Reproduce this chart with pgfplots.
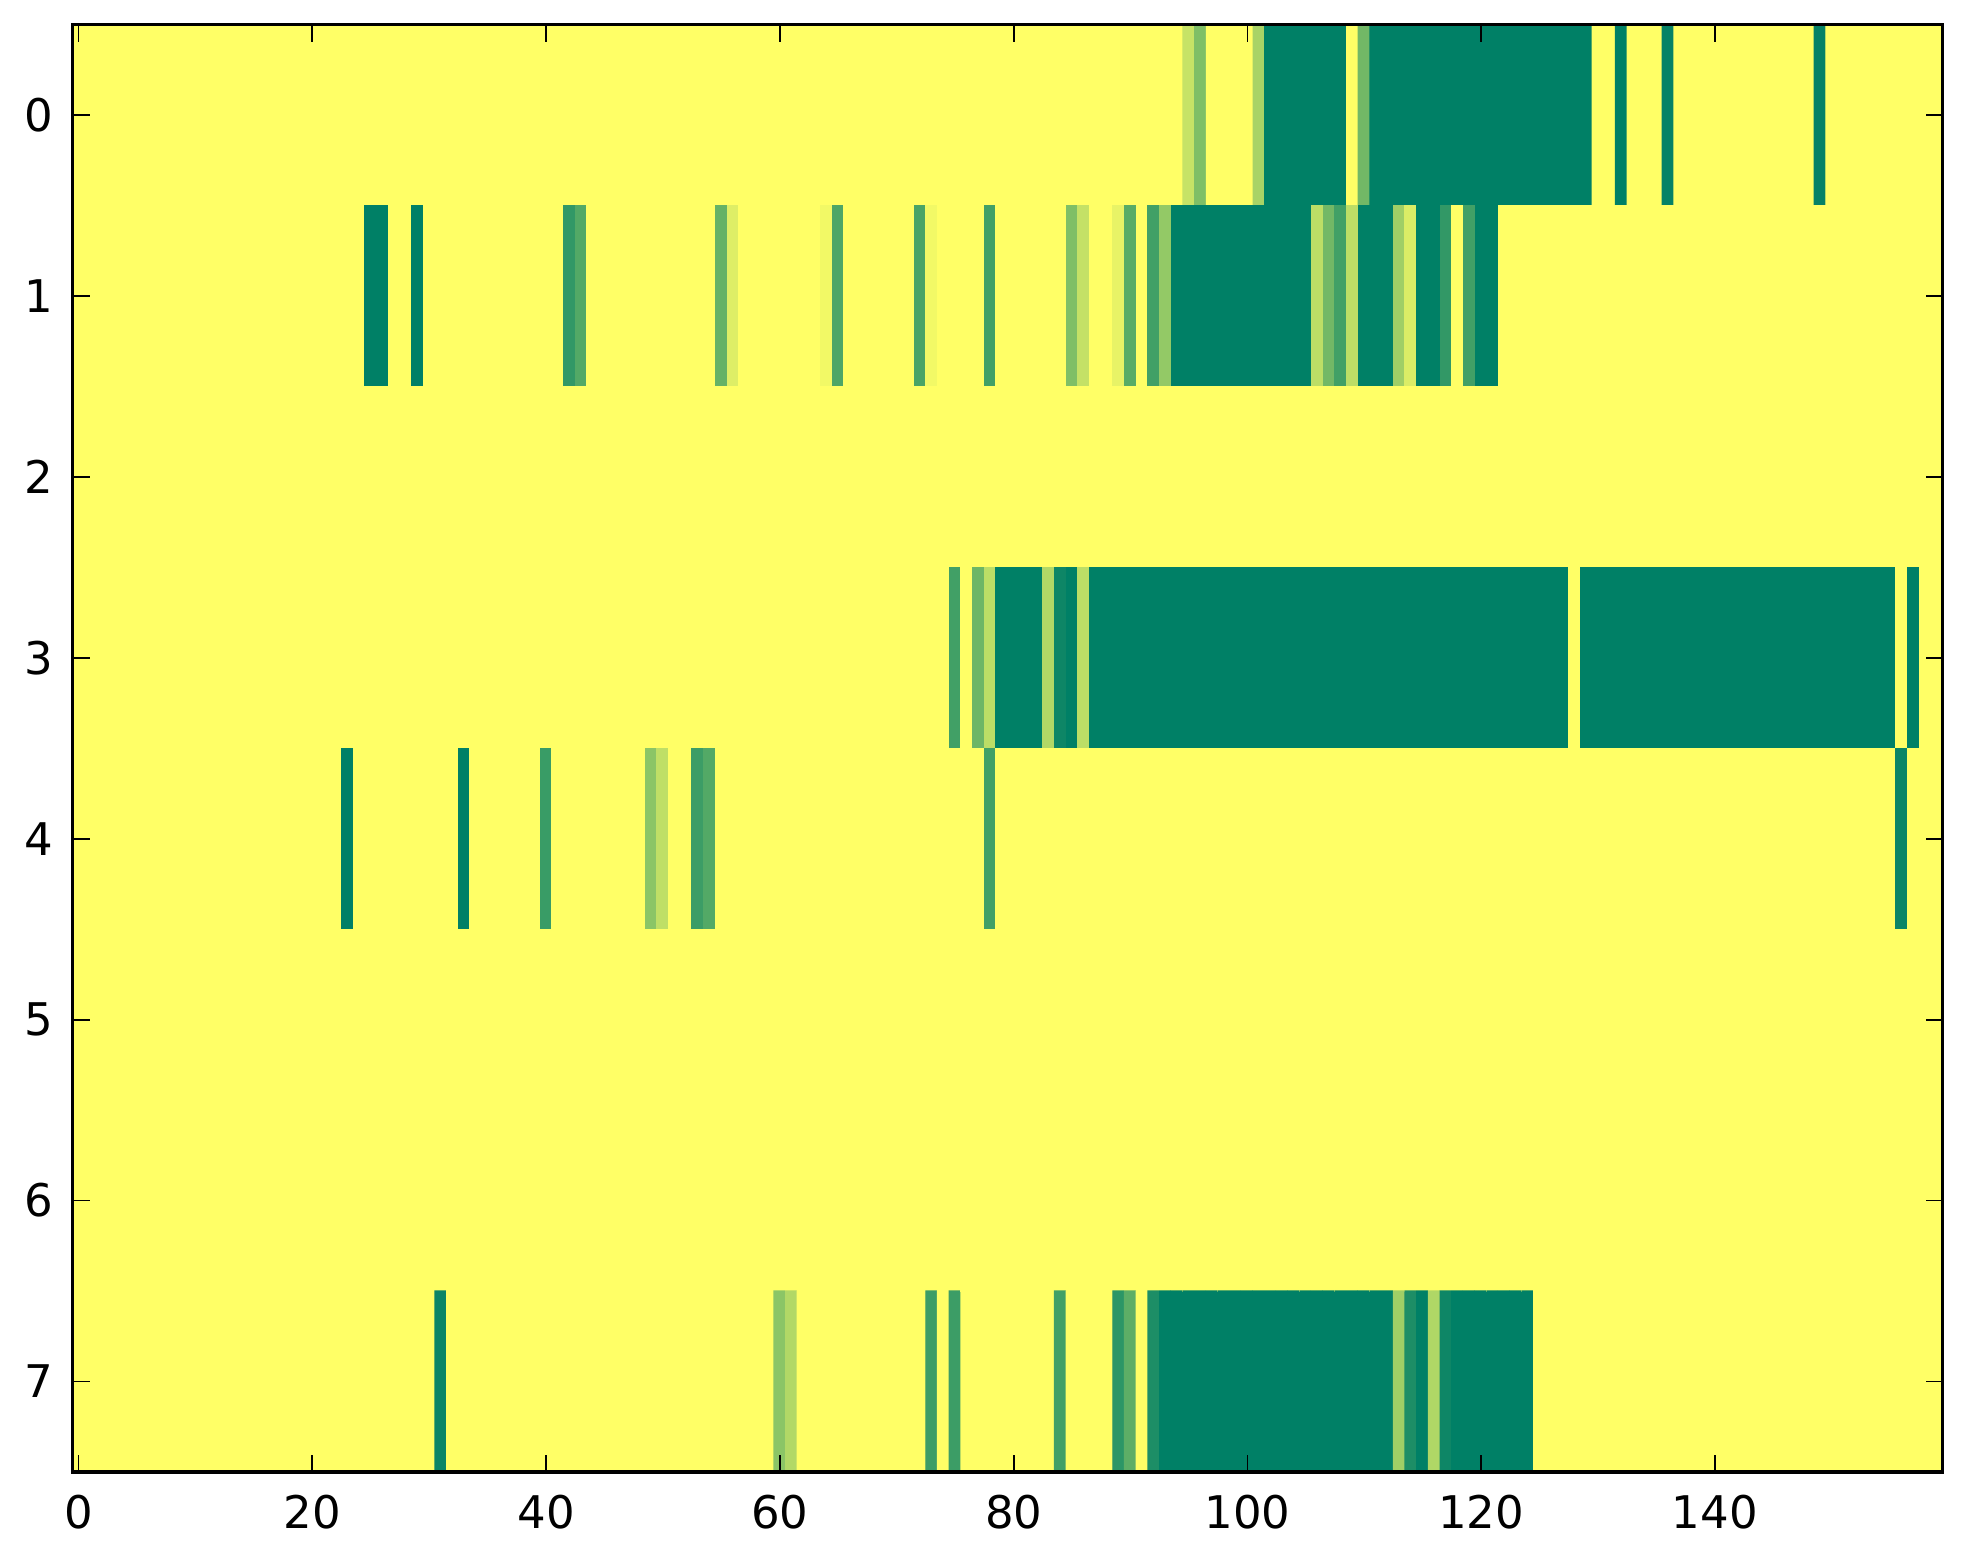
\documentclass[border=0pt]{standalone}
\usepackage{fontspec}
\setmainfont{DejaVu Sans}
\usepackage{pgfplots}
\pgfplotsset{compat=1.18}
\begin{document}
\begin{tikzpicture}
\begin{axis}[
  scale only axis, width=519.4pt, height=401.9pt,
  xmin=-0.5, xmax=159.5, ymin=-0.5, ymax=7.5,
  y dir=reverse,
  enlargelimits=false,
  xtick={0,20,...,140}, ytick={0,1,2,3,4,5,6,7},
  tick align=inside,
  major tick length=4.8pt,
  axis line style={line width=0.9pt},
  every tick/.style={black, line width=0.5pt},
  colormap={summerr}{rgb=(1,1,0.4) rgb=(0,0.5,0.4)},
  point meta min=0, point meta max=1,
  /pgf/number format/assume math mode=true,
  ticklabel style={font=\fontsize{12.5}{15}\selectfont},
  xticklabel style={yshift=-3pt},
  yticklabel style={xshift=-2pt},
  axis on top,
]
\addplot[matrix plot*, mesh/cols=160, point meta=explicit, shader=flat corner]
table[row sep=\\, meta index=0, x expr={mod(\coordindex,160)}, y expr={floor(\coordindex/160)}] {
% row 0
0\\0\\0\\0\\0\\0\\0\\0\\0\\0\\
0\\0\\0\\0\\0\\0\\0\\0\\0\\0\\
0\\0\\0\\0\\0\\0\\0\\0\\0\\0\\
0\\0\\0\\0\\0\\0\\0\\0\\0\\0\\
0\\0\\0\\0\\0\\0\\0\\0\\0\\0\\
0\\0\\0\\0\\0\\0\\0\\0\\0\\0\\
0\\0\\0\\0\\0\\0\\0\\0\\0\\0\\
0\\0\\0\\0\\0\\0\\0\\0\\0\\0\\
0\\0\\0\\0\\0\\0\\0\\0\\0\\0\\
0\\0\\0\\0\\0\\0.22\\0.5\\0\\0\\0\\
0\\0.34\\1\\1\\1\\1\\1\\1\\1\\0\\
0.55\\1\\1\\1\\1\\1\\1\\1\\1\\1\\
1\\1\\1\\1\\1\\1\\1\\1\\1\\1\\
0\\0\\1\\0\\0\\0\\0.97\\0\\0\\0\\
0\\0\\0\\0\\0\\0\\0\\0\\0\\0.97\\
0\\0\\0\\0\\0\\0\\0\\0\\0\\0\\
% row 1
0\\0\\0\\0\\0\\0\\0\\0\\0\\0\\
0\\0\\0\\0\\0\\0\\0\\0\\0\\0\\
0\\0\\0\\0\\0\\1\\1\\0\\0\\1\\
0\\0\\0\\0\\0\\0\\0\\0\\0\\0\\
0\\0\\0.8\\0.67\\0\\0\\0\\0\\0\\0\\
0\\0\\0\\0\\0\\0.6\\0.13\\0\\0\\0\\
0\\0\\0\\0\\0.05\\0.69\\0\\0\\0\\0\\
0\\0\\0.71\\0.05\\0\\0\\0\\0\\0.74\\0\\
0\\0\\0\\0\\0\\0.5\\0.23\\0\\0\\0.09\\
0.65\\0\\0.74\\0.42\\1\\1\\1\\1\\1\\1\\
1\\1\\1\\1\\1\\1\\0.26\\0.55\\0.74\\0.26\\
1\\1\\1\\0.37\\0.14\\1\\1\\0.8\\0\\0.74\\
1\\1\\0\\0\\0\\0\\0\\0\\0\\0\\
0\\0\\0\\0\\0\\0\\0\\0\\0\\0\\
0\\0\\0\\0\\0\\0\\0\\0\\0\\0\\
0\\0\\0\\0\\0\\0\\0\\0\\0\\0\\
% row 2
0\\0\\0\\0\\0\\0\\0\\0\\0\\0\\
0\\0\\0\\0\\0\\0\\0\\0\\0\\0\\
0\\0\\0\\0\\0\\0\\0\\0\\0\\0\\
0\\0\\0\\0\\0\\0\\0\\0\\0\\0\\
0\\0\\0\\0\\0\\0\\0\\0\\0\\0\\
0\\0\\0\\0\\0\\0\\0\\0\\0\\0\\
0\\0\\0\\0\\0\\0\\0\\0\\0\\0\\
0\\0\\0\\0\\0\\0\\0\\0\\0\\0\\
0\\0\\0\\0\\0\\0\\0\\0\\0\\0\\
0\\0\\0\\0\\0\\0\\0\\0\\0\\0\\
0\\0\\0\\0\\0\\0\\0\\0\\0\\0\\
0\\0\\0\\0\\0\\0\\0\\0\\0\\0\\
0\\0\\0\\0\\0\\0\\0\\0\\0\\0\\
0\\0\\0\\0\\0\\0\\0\\0\\0\\0\\
0\\0\\0\\0\\0\\0\\0\\0\\0\\0\\
0\\0\\0\\0\\0\\0\\0\\0\\0\\0\\
% row 3
0\\0\\0\\0\\0\\0\\0\\0\\0\\0\\
0\\0\\0\\0\\0\\0\\0\\0\\0\\0\\
0\\0\\0\\0\\0\\0\\0\\0\\0\\0\\
0\\0\\0\\0\\0\\0\\0\\0\\0\\0\\
0\\0\\0\\0\\0\\0\\0\\0\\0\\0\\
0\\0\\0\\0\\0\\0\\0\\0\\0\\0\\
0\\0\\0\\0\\0\\0\\0\\0\\0\\0\\
0\\0\\0\\0\\0\\0.74\\0\\0.57\\0.26\\1\\
1\\1\\1\\0.3\\0.94\\1\\0.26\\1\\1\\1\\
1\\1\\1\\1\\1\\1\\1\\1\\1\\1\\
1\\1\\1\\1\\1\\1\\1\\1\\1\\1\\
1\\1\\1\\1\\1\\1\\1\\1\\1\\1\\
1\\1\\1\\1\\1\\1\\1\\1\\0\\1\\
1\\1\\1\\1\\1\\1\\1\\1\\1\\1\\
1\\1\\1\\1\\1\\1\\1\\1\\1\\1\\
1\\1\\1\\1\\1\\1\\0\\1\\0\\0\\
% row 4
0\\0\\0\\0\\0\\0\\0\\0\\0\\0\\
0\\0\\0\\0\\0\\0\\0\\0\\0\\0\\
0\\0\\0\\1\\0\\0\\0\\0\\0\\0\\
0\\0\\0\\1\\0\\0\\0\\0\\0\\0\\
0.77\\0\\0\\0\\0\\0\\0\\0\\0\\0.45\\
0.25\\0\\0\\0.76\\0.67\\0\\0\\0\\0\\0\\
0\\0\\0\\0\\0\\0\\0\\0\\0\\0\\
0\\0\\0\\0\\0\\0\\0\\0\\0.74\\0\\
0\\0\\0\\0\\0\\0\\0\\0\\0\\0\\
0\\0\\0\\0\\0\\0\\0\\0\\0\\0\\
0\\0\\0\\0\\0\\0\\0\\0\\0\\0\\
0\\0\\0\\0\\0\\0\\0\\0\\0\\0\\
0\\0\\0\\0\\0\\0\\0\\0\\0\\0\\
0\\0\\0\\0\\0\\0\\0\\0\\0\\0\\
0\\0\\0\\0\\0\\0\\0\\0\\0\\0\\
0\\0\\0\\0\\0\\0\\0.95\\0\\0\\0\\
% row 5
0\\0\\0\\0\\0\\0\\0\\0\\0\\0\\
0\\0\\0\\0\\0\\0\\0\\0\\0\\0\\
0\\0\\0\\0\\0\\0\\0\\0\\0\\0\\
0\\0\\0\\0\\0\\0\\0\\0\\0\\0\\
0\\0\\0\\0\\0\\0\\0\\0\\0\\0\\
0\\0\\0\\0\\0\\0\\0\\0\\0\\0\\
0\\0\\0\\0\\0\\0\\0\\0\\0\\0\\
0\\0\\0\\0\\0\\0\\0\\0\\0\\0\\
0\\0\\0\\0\\0\\0\\0\\0\\0\\0\\
0\\0\\0\\0\\0\\0\\0\\0\\0\\0\\
0\\0\\0\\0\\0\\0\\0\\0\\0\\0\\
0\\0\\0\\0\\0\\0\\0\\0\\0\\0\\
0\\0\\0\\0\\0\\0\\0\\0\\0\\0\\
0\\0\\0\\0\\0\\0\\0\\0\\0\\0\\
0\\0\\0\\0\\0\\0\\0\\0\\0\\0\\
0\\0\\0\\0\\0\\0\\0\\0\\0\\0\\
% row 6
0\\0\\0\\0\\0\\0\\0\\0\\0\\0\\
0\\0\\0\\0\\0\\0\\0\\0\\0\\0\\
0\\0\\0\\0\\0\\0\\0\\0\\0\\0\\
0\\0\\0\\0\\0\\0\\0\\0\\0\\0\\
0\\0\\0\\0\\0\\0\\0\\0\\0\\0\\
0\\0\\0\\0\\0\\0\\0\\0\\0\\0\\
0\\0\\0\\0\\0\\0\\0\\0\\0\\0\\
0\\0\\0\\0\\0\\0\\0\\0\\0\\0\\
0\\0\\0\\0\\0\\0\\0\\0\\0\\0\\
0\\0\\0\\0\\0\\0\\0\\0\\0\\0\\
0\\0\\0\\0\\0\\0\\0\\0\\0\\0\\
0\\0\\0\\0\\0\\0\\0\\0\\0\\0\\
0\\0\\0\\0\\0\\0\\0\\0\\0\\0\\
0\\0\\0\\0\\0\\0\\0\\0\\0\\0\\
0\\0\\0\\0\\0\\0\\0\\0\\0\\0\\
0\\0\\0\\0\\0\\0\\0\\0\\0\\0\\
% row 7
0\\0\\0\\0\\0\\0\\0\\0\\0\\0\\
0\\0\\0\\0\\0\\0\\0\\0\\0\\0\\
0\\0\\0\\0\\0\\0\\0\\0\\0\\0\\
0\\0.95\\0\\0\\0\\0\\0\\0\\0\\0\\
0\\0\\0\\0\\0\\0\\0\\0\\0\\0\\
0\\0\\0\\0\\0\\0\\0\\0\\0\\0\\
0.45\\0.3\\0\\0\\0\\0\\0\\0\\0\\0\\
0\\0\\0\\0.76\\0\\0.76\\0\\0\\0\\0\\
0\\0\\0\\0\\0.74\\0\\0\\0\\0\\0.82\\
0.63\\0\\0.88\\1\\1\\1\\1\\1\\1\\1\\
1\\1\\1\\1\\1\\1\\1\\1\\1\\1\\
1\\1\\1\\0.375\\0.88\\1\\0.31\\0.94\\1\\1\\
1\\1\\1\\1\\1\\0\\0\\0\\0\\0\\
0\\0\\0\\0\\0\\0\\0\\0\\0\\0\\
0\\0\\0\\0\\0\\0\\0\\0\\0\\0\\
0\\0\\0\\0\\0\\0\\0\\0\\0\\0\\
};
\end{axis}
\path ([xshift=-20.2pt,yshift=-25.6pt]current axis.south west) rectangle ([xshift=5.6pt,yshift=6.9pt]current axis.north east);
\end{tikzpicture}
\end{document}
